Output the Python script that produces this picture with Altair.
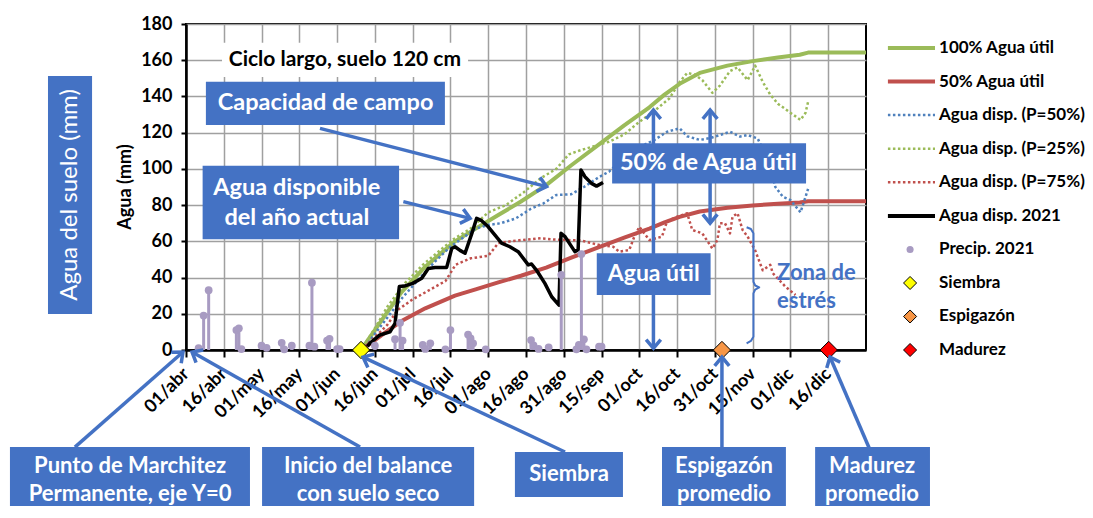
import math
import altair as alt
import pandas as pd

# ---------------- data (x = days since 01/abr, y = mm) ----------------
TICK_LABELS = ["01/abr", "16/abr", "01/may", "16/may", "01/jun", "16/jun", "01/jul",
               "16/jul", "01/ago", "16/ago", "31/ago", "15/sep", "01/oct", "16/oct",
               "31/oct", "15/nov", "01/dic", "16/dic"]
TICK_DAYS = [15 * i for i in range(len(TICK_LABELS))]
Y_TICKS = [0, 20, 40, 60, 80, 100, 120, 140, 160, 180]
Y_TITLE = "Agua (mm)"

AU100_DAY = [69.5, 75, 80, 85.6, 95, 106.8, 115, 124, 133, 143, 153, 164, 174, 184, 190,
             196, 204, 215, 225, 235, 243.7, 247, 270]
AU100_MM = [0, 11, 21, 32, 46, 60, 67, 74.5, 82, 91, 102, 113.5, 124, 134, 141,
            147, 153, 157, 159.5, 161.5, 163, 164.2, 164.2]

AU50_DAY = [69.5, 75, 80, 85.6, 95, 106.8, 115, 124, 133, 143, 153, 164, 174, 184, 190,
            196, 204, 215, 225, 235, 243.7, 247, 270]
AU50_MM = [0, 5.5, 10.5, 16, 23, 30, 33.5, 37.3, 41, 45.5, 51, 56.8, 62, 67, 70.5,
           73.5, 76.5, 78.5, 79.8, 80.8, 81.5, 82.1, 82.1]

P50_DAY = [69.5, 75, 80, 86, 93, 99, 105, 110, 115, 120, 125, 131, 137, 142, 147, 153,
           158, 164, 168, 175, 180, 186, 191, 196, 199, 204, 208, 212, 216, 220, 223,
           227, 231, 234, 237, 240, 244, 246, 247]
P50_MM = [0, 9, 18, 29, 40, 49, 57, 62, 67, 69, 70, 72.7, 78, 81, 85.6, 86,
          90, 95.5, 98.5, 107.7, 112, 116, 120.5, 122.4, 118, 116, 117, 118.7, 120.5, 117.8, 118.7,
          116.8, 105, 90, 84.6, 82.8, 76, 84.6, 89]

P25_DAY = [69.5, 75, 80, 87, 94, 100, 106, 113, 120, 127, 134, 141, 147, 152, 156, 163,
           168, 174, 180, 186, 192, 196, 199, 202, 205, 209, 212, 216, 219, 223, 226, 229,
           232, 235, 238, 241, 244, 246, 247]
P25_MM = [0, 12, 24, 37, 47, 54, 61, 67, 76, 80, 87, 95, 100, 108, 110, 113,
          115, 119, 126, 132, 139, 148, 153, 152, 149, 142, 146, 154, 156, 149, 157, 148,
          141, 136, 133, 130, 127, 131, 137]

P75_DAY = [69.5, 75, 80, 84, 90, 94, 99, 103, 107, 113, 120, 124, 129, 133, 141, 146, 152,
           157, 164, 169.6, 172, 176, 178, 180, 184, 189, 191, 195, 199, 201, 205, 209, 211,
           212, 214, 216, 217, 219, 221, 223, 226, 229, 232, 233, 238, 242]
P75_MM = [0, 7, 14, 22, 28, 31, 35, 38, 47, 50.6, 52, 59, 60, 60.7, 61.7, 61, 60.7,
          60.4, 58, 57, 54.3, 55.2, 62.6, 68, 60.7, 62.6, 71, 73.6, 75.5, 66.3, 64.4, 56, 60.7,
          70, 70, 64.4, 73.6, 75.5, 66.3, 62.6, 55, 44, 47, 42.4, 35, 30.4]

A2021_DAY = [72, 73, 77, 81, 83, 84.7, 86.7, 90, 93.6, 96.2, 98.9, 103.5, 105.5, 106.8,
             108.8, 110.8, 113.5, 115.4, 117.4, 120, 125.3, 128.6, 131.9, 135.9, 137.2,
             139.2, 142.5, 145.2, 148.1, 148.9, 150.5, 154.4, 155.7, 156.8, 158.4, 161,
             163, 165.6]
A2021_MM = [2, 3.7, 8.3, 10, 14.7, 35, 35.3, 36.8, 39.6, 45, 45.6, 45.6, 56, 57,
            55, 53.4, 64.4, 72.7, 71.4, 68, 59, 57, 54.3, 47, 47.5,
            44, 36.8, 29.4, 24.8, 64.4, 62.6, 54.3, 55.2, 99.4, 95.7, 92,
            90.5, 92.5]

PREC_DAY = [5, 7, 9, 20, 21, 22, 30, 32, 38, 39, 42, 49, 50, 51, 56, 57, 60, 61, 69, 75,
            83, 85, 86, 94, 95, 97, 103, 105, 112, 113, 114, 119, 137, 138, 140, 144, 149,
            155, 156, 157, 158, 159, 164, 165]
PREC_MM = [1, 19, 33, 11, 12, 0.5, 2.4, 1.2, 4, 0.4, 2.4, 2.4, 37.2, 1.8, 5.2, 6.2, 0.5,
           0.5, 0.5, 2.4, 6, 15, 5.2, 2.8, 0.6, 3.7, 0.4, 11, 8.5, 6.4, 3.7, 0.4, 5.5, 2.5,
           0.6, 1.5, 41.5, 0.4, 2.8, 53, 5.9, 0.4, 1.8, 1.8]

STAGE_NAMES = ["Siembra", "Espigazón", "Madurez"]
STAGE_DAY = [69.5, 212.8, 255.2]
STAGE_COLORS = ["#FFFF00", "#F79646", "#FF0000"]

LEGEND_LABELS = ["100% Agua útil", "50% Agua útil", "Agua disp. (P=50%)",
                 "Agua disp. (P=25%)", "Agua disp. (P=75%)", "Agua disp. 2021",
                 "Precip. 2021", "Siembra", "Espigazón", "Madurez"]

# ---------------- style ----------------
FONT = "Lato"
BLUE = "#4472C4"
GREEN = "#9BBB59"
RED = "#C0504D"
DBLUE = "#4F81BD"
PURPLE = "#A89BC2"
GRID = "#A0A0A0"
DOT = [2.5, 2.5]

W, H = 680, 326
XMAX, YMAX = 270, 180
PXD = W / XMAX
PXM = H / YMAX

xs = alt.Scale(domain=[0, XMAX], nice=False, zero=False)
ys = alt.Scale(domain=[0, YMAX], nice=False, zero=False)

label_expr = "[" + ",".join(f"'{l}'" for l in TICK_LABELS) + "][round(datum.value/15)]"

x_axis = alt.Axis(values=TICK_DAYS, labelExpr=label_expr, labelAngle=-45, labelAlign="right",
                  labelBaseline="middle", labelFlush=False, labelOverlap=False, labelPadding=14,
                  labelFont=FONT, labelFontSize=18, labelFontWeight="bold", labelColor="black",
                  tickSize=7, tickColor="black", tickWidth=2, domainColor="black",
                  domainWidth=2.5, grid=True, gridColor=GRID, gridWidth=1.5, title=None)
y_axis = alt.Axis(values=Y_TICKS, labelFont=FONT, labelFontSize=18, labelFontWeight="bold",
                  labelColor="black", labelPadding=9, tickSize=5, tickColor="black",
                  tickWidth=2, domainColor="black", domainWidth=2.5, grid=True,
                  gridColor=GRID, gridWidth=1.5, title=None)


def X(f="d"):
    return alt.X(f"{f}:Q", scale=xs, axis=x_axis)


def Y(f="v"):
    return alt.Y(f"{f}:Q", scale=ys, axis=y_axis)


def line_df(days, vals):
    return pd.DataFrame({"d": days, "v": vals, "o": list(range(len(days)))})


def line_layer(days, vals, color, width, dash=None):
    kw = dict(color=color, strokeWidth=width, strokeJoin="round")
    if dash:
        kw["strokeDash"] = dash
    return alt.Chart(line_df(days, vals)).mark_line(**kw).encode(x=X(), y=Y(), order="o:Q")


layers = []
layers.append(line_layer(AU100_DAY, AU100_MM, GREEN, 4))
layers.append(line_layer(AU50_DAY, AU50_MM, RED, 4))
layers.append(line_layer(P50_DAY, P50_MM, DBLUE, 2.5, DOT))
layers.append(line_layer(P25_DAY, P25_MM, GREEN, 2.5, DOT))
layers.append(line_layer(P75_DAY, P75_MM, RED, 2.5, DOT))
layers.append(line_layer(A2021_DAY, A2021_MM, "black", 3.5))

prec = pd.DataFrame({"d": PREC_DAY, "v": PREC_MM, "z": [0] * len(PREC_DAY)})
layers.append(alt.Chart(prec).mark_rule(color=PURPLE, strokeWidth=3).encode(
    x=X(), y=Y(), y2=alt.Y2("z:Q")))
layers.append(alt.Chart(prec).mark_point(filled=True, color=PURPLE, size=60, opacity=1).encode(
    x=X(), y=Y()))

stages = pd.DataFrame({"d": STAGE_DAY, "v": [0] * 3, "c": STAGE_COLORS})
layers.append(alt.Chart(stages).mark_point(shape="diamond", filled=True, size=300, stroke="black",
                                           strokeWidth=1, opacity=1).encode(
    x=X(), y=Y(), fill=alt.Fill("c:N", scale=None)))

# ---------------- annotations (positions in data units) ----------------
# y-axis title
layers.append(alt.Chart(pd.DataFrame({"d": [-23.8], "v": [90], "t": [Y_TITLE]}))
              .mark_text(font=FONT, fontSize=18, fontWeight="bold", color="black", angle=270)
              .encode(x=X(), y=Y(), text="t:N"))

TITLE_BOX = [14.3, 112, 169.6, 150.7]
layers.append(alt.Chart(pd.DataFrame({"d": [TITLE_BOX[0]], "d2": [TITLE_BOX[1]],
                                      "v": [TITLE_BOX[2]], "v2": [TITLE_BOX[3]]}))
              .mark_rect(color="white").encode(x=X(), x2="d2:Q", y=Y(), y2="v2:Q"))
layers.append(alt.Chart(pd.DataFrame({"d": [63.1], "v": [160.1], "t": ["Ciclo largo, suelo 120 cm"]}))
              .mark_text(font=FONT, fontSize=21, fontWeight="bold", color="black")
              .encode(x=X(), y=Y(), text="t:N"))

ARROW_X1 = [53.2, 86.3, 185.6, 208.1, -44.1, 69.1, 150.5, 212.8, 271.6]
ARROW_Y1 = [122.4, 81.9, 0.9, 70.0, -53.6, -53.6, -56.3, -53.6, -55.2]
ARROW_X2 = [143.2, 112.8, 185.6, 208.1, -1.2, 2.4, 70.3, 212.8, 255.7]
ARROW_Y2 = [90.2, 72.7, 132.5, 132.5, -1.1, -1.1, -3.9, -3.9, -3.9]
ARROW_BOTH = [False, False, True, True, False, False, False, False, False]


def head_angle(x1, y1, x2, y2):
    dx = (x2 - x1) * PXD
    dy = -(y2 - y1) * PXM
    return math.degrees(math.atan2(dx, -dy)) % 360


arrows = pd.DataFrame({"d": ARROW_X1, "v": ARROW_Y1, "d2": ARROW_X2, "v2": ARROW_Y2})
heads = []
for x1, y1, x2, y2, both in zip(ARROW_X1, ARROW_Y1, ARROW_X2, ARROW_Y2, ARROW_BOTH):
    heads.append({"d": x2, "v": y2, "a": head_angle(x1, y1, x2, y2)})
    if both:
        heads.append({"d": x1, "v": y1, "a": head_angle(x2, y2, x1, y1)})
heads = pd.DataFrame(heads)
CHEVRON = "M-0.75,0.9L0,0L0.75,0.9"
layers.append(alt.Chart(arrows).mark_rule(color=BLUE, strokeWidth=3.5).encode(
    x=X(), y=Y(), x2="d2:Q", y2="v2:Q"))
layers.append(alt.Chart(heads).mark_point(shape=CHEVRON, filled=False, color=BLUE, size=380,
                                          strokeWidth=3.5, opacity=1, strokeJoin="miter").encode(
    x=X(), y=Y(), angle=alt.Angle("a:Q", scale=None)))

BRACE_D = [222.6, 224.3, 225.3, 225.3, 226.0, 227.6, 226.0, 225.3, 225.3, 224.3, 222.6]
BRACE_V = [67.8, 66.8, 64.4, 37.7, 35.6, 34.6, 33.4, 31.3, 7.3, 5.0, 3.7]
layers.append(alt.Chart(line_df(BRACE_D, BRACE_V)).mark_line(color=BLUE, strokeWidth=2,
                                                             strokeJoin="round").encode(
    x=X(), y=Y(), order="o:Q"))

BOX_X1 = [7.9, 6.6, 169.2, 163.1, -54.8, -69.9, 30.2, 130.6, 189.0, 249.8]
BOX_X2 = [102.8, 84.6, 246.2, 208.3, -37.3, 25.4, 114.4, 173.5, 238.2, 295.4]
BOX_Y1 = [148.1, 101.8, 114.1, 53.4, 151.3, -53.6, -53.6, -56.3, -53.6, -53.6]
BOX_Y2 = [124.2, 61.1, 92.0, 30.4, 19.9, -93.0, -93.0, -81.2, -93.0, -93.0]
boxes = pd.DataFrame({"d": BOX_X1, "d2": BOX_X2, "v": BOX_Y1, "v2": BOX_Y2})
layers.append(alt.Chart(boxes).mark_rect(color=BLUE).encode(x=X(), x2="d2:Q", y=Y(), y2="v2:Q"))

BOX_TEXT = ["Capacidad de campo", "Agua disponible", "del año actual", "50% de Agua útil",
            "Agua útil", "Punto de Marchitez", "Permanente, eje Y=0", "Inicio del balance",
            "con suelo seco", "Siembra", "Espigazón", "promedio", "Madurez", "promedio"]
BOX_TEXT_D = [55.4, 44.0, 44.0, 207.4, 185.7, -22.2, -22.2, 72.3, 72.3, 152.1, 213.6, 213.6,
              272.4, 272.4]
BOX_TEXT_V = [136.2, 89.3, 72.7, 103.1, 42.0, -63.8, -79.6, -63.8, -79.6, -68.7, -63.8, -79.6,
              -63.8, -79.6]
BOX_TEXT_SIZE = [23.5, 23.5, 23.5, 23.5, 23, 22, 22, 22, 22, 22, 22, 22, 22, 22]
bt = pd.DataFrame({"d": BOX_TEXT_D, "v": BOX_TEXT_V, "t": BOX_TEXT, "s": BOX_TEXT_SIZE})
layers.append(alt.Chart(bt).mark_text(font=FONT, fontWeight="bold", color="white").encode(
    x=X(), y=Y(), text="t:N", size=alt.Size("s:Q", scale=None)))

layers.append(alt.Chart(pd.DataFrame({"d": [-46.1], "v": [85.6], "t": ["Agua del suelo (mm)"]}))
              .mark_text(font=FONT, fontSize=24, color="white", angle=270)
              .encode(x=X(), y=Y(), text="t:N"))

ZONA_TEXT = ["Zona de", "estrés"]
ZONA_V = [42.5, 27.1]
layers.append(alt.Chart(pd.DataFrame({"d": [234.7, 234.7], "v": ZONA_V, "t": ZONA_TEXT}))
              .mark_text(font=FONT, fontSize=22, fontWeight="bold", color=BLUE, align="left")
              .encode(x=X(), y=Y(), text="t:N"))

# ---------------- custom legend ----------------
LEG_V = [166.7, 148.2, 129.7, 111.1, 92.6, 74.0, 55.5, 37.0, 18.5, 0.0]
LEG_X1, LEG_X2, LEG_MARK, LEG_TEXT_X = 278.7, 297.4, 287.5, 299.0
solid_leg = pd.DataFrame({"d": [LEG_X1] * 3, "d2": [LEG_X2] * 3,
                          "v": [LEG_V[0], LEG_V[1], LEG_V[5]], "c": [GREEN, RED, "black"]})
dot_leg = pd.DataFrame({"d": [LEG_X1] * 3, "d2": [LEG_X2] * 3,
                        "v": [LEG_V[2], LEG_V[3], LEG_V[4]], "c": [DBLUE, GREEN, RED]})
layers.append(alt.Chart(solid_leg).mark_rule(strokeWidth=4).encode(
    x=X(), x2="d2:Q", y=Y(), color=alt.Color("c:N", scale=None)))
layers.append(alt.Chart(dot_leg).mark_rule(strokeWidth=2.5, strokeDash=DOT).encode(
    x=X(), x2="d2:Q", y=Y(), color=alt.Color("c:N", scale=None)))
layers.append(alt.Chart(pd.DataFrame({"d": [LEG_MARK], "v": [LEG_V[6]]}))
              .mark_point(filled=True, color=PURPLE, size=50, opacity=1).encode(x=X(), y=Y()))
layers.append(alt.Chart(pd.DataFrame({"d": [LEG_MARK] * 3, "v": LEG_V[7:], "c": STAGE_COLORS}))
              .mark_point(shape="diamond", filled=True, size=170, stroke="black", strokeWidth=1,
                          opacity=1)
              .encode(x=X(), y=Y(), fill=alt.Fill("c:N", scale=None)))
layers.append(alt.Chart(pd.DataFrame({"d": [LEG_TEXT_X] * len(LEGEND_LABELS), "v": LEG_V,
                                      "t": LEGEND_LABELS}))
              .mark_text(font=FONT, fontSize=17, fontWeight="bold", color="black", align="left")
              .encode(x=X(), y=Y(), text="t:N"))

chart = alt.layer(*layers).properties(
    width=W, height=H,
    padding={"left": 178, "top": 16, "right": 219, "bottom": 156},
    autosize=alt.AutoSizeParams(type="none"),
    background="white",
).configure_view(stroke="black", strokeWidth=2)

chart.save("out.html", embed_options={"renderer": "svg", "actions": False})
